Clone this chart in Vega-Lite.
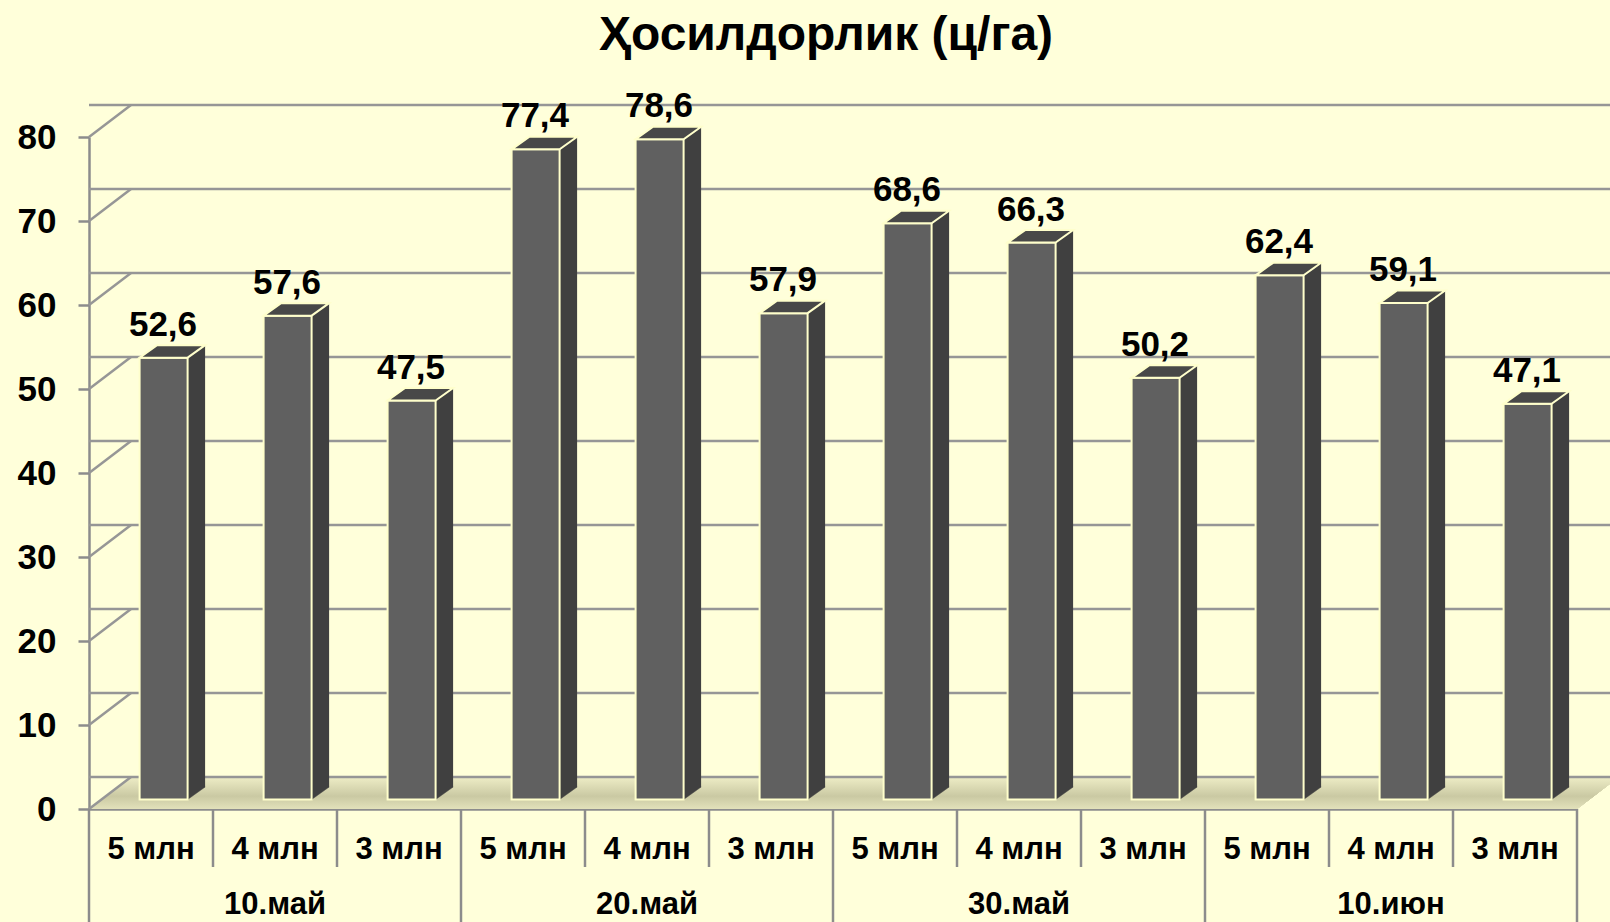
{
  "$schema": "https://vega.github.io/schema/vega-lite/v6.json",
  "width": 1488,
  "height": 672,
  "autosize": {"type": "none"},
  "padding": {"left": 89, "top": 137, "right": 33, "bottom": 113},
  "background": "#FFFFDA",
  "title": {"text": "Ҳосилдорлик (ц/га)", "font": "Liberation Sans", "fontSize": 48, "fontWeight": "bold", "color": "#000000", "anchor": "middle", "frame": "group", "baseline": "alphabetic", "offset": -9, "dx": -7},
  "config": {
    "view": {"stroke": null},
    "locale": {"number": {"decimal": ",", "thousands": " ", "grouping": [3], "currency": ["", ""]}},
    "font": "Liberation Sans"
  },
  "datasets": {
    "bars": [
      {"key": "10.май|5 млн", "date": "10.май", "dose": "5 млн", "value": 52.6},
      {"key": "10.май|4 млн", "date": "10.май", "dose": "4 млн", "value": 57.6},
      {"key": "10.май|3 млн", "date": "10.май", "dose": "3 млн", "value": 47.5},
      {"key": "20.май|5 млн", "date": "20.май", "dose": "5 млн", "value": 77.4},
      {"key": "20.май|4 млн", "date": "20.май", "dose": "4 млн", "value": 78.6},
      {"key": "20.май|3 млн", "date": "20.май", "dose": "3 млн", "value": 57.9},
      {"key": "30.май|5 млн", "date": "30.май", "dose": "5 млн", "value": 68.6},
      {"key": "30.май|4 млн", "date": "30.май", "dose": "4 млн", "value": 66.3},
      {"key": "30.май|3 млн", "date": "30.май", "dose": "3 млн", "value": 50.2},
      {"key": "10.июн|5 млн", "date": "10.июн", "dose": "5 млн", "value": 62.4},
      {"key": "10.июн|4 млн", "date": "10.июн", "dose": "4 млн", "value": 59.1},
      {"key": "10.июн|3 млн", "date": "10.июн", "dose": "3 млн", "value": 47.1}
    ],
    "grid": [{"g": 0}, {"g": 10}, {"g": 20}, {"g": 30}, {"g": 40}, {"g": 50}, {"g": 60}, {"g": 70}, {"g": 80}]
  },
  "data": {"name": "bars"},
  "encoding": {
    "x": {
      "field": "key", "type": "nominal", "sort": null,
      "scale": {"paddingInner": 0, "paddingOuter": 0},
      "axis": {
        "title": null, "labelExpr": "split(datum.label, '|')[1]", "labelAngle": 0,
        "labelFont": "Liberation Sans", "labelFontSize": 31, "labelFontWeight": "bold", "labelColor": "#000000",
        "labelBaseline": "alphabetic", "labelPadding": 49, "ticks": false, "tickSize": 0,
        "domain": true, "domainColor": "#8c8c8c", "domainWidth": 2.5, "grid": false
      }
    }
  },
  "layer": [
    {
      "mark": {"type": "point", "shape": "M0,0L1488,0L1530,-32L42,-32Z", "size": 4, "filled": true, "opacity": 1, "strokeWidth": 0,
        "fill": {"gradient": "linear", "x1": 0, "y1": 0, "x2": 0, "y2": 1, "stops": [{"offset": 0, "color": "#eeedc6"}, {"offset": 0.6, "color": "#cac9a3"}, {"offset": 1, "color": "#e2e1ba"}]}},
      "encoding": {"x": {"datum": "10.май|5 млн", "bandPosition": 0}, "y": {"datum": 0, "type": "quantitative"}}
    },
    {
      "data": {"name": "grid"},
      "mark": {"type": "rule", "color": "#969696", "strokeWidth": 2.5, "xOffset": 42, "x2Offset": 42, "yOffset": -32},
      "encoding": {"x": null, "y": {"field": "g", "type": "quantitative"}}
    },
    {
      "data": {"name": "grid"},
      "mark": {"type": "rule", "color": "#969696", "strokeWidth": 2.5, "y2Offset": -32, "x2Offset": 42},
      "encoding": {
        "x": {"datum": "10.май|5 млн", "bandPosition": 0},
        "x2": {"datum": "10.май|5 млн", "bandPosition": 0},
        "y": {"field": "g", "type": "quantitative"},
        "y2": {"field": "g"}
      }
    },
    {
      "mark": {"type": "bar", "width": 17.5, "xOffset": 45.35, "yOffset": -22, "y2Offset": -22, "fill": "#404040", "stroke": null},
      "encoding": {
        "y": {"field": "value", "type": "quantitative", "scale": {"domain": [0, 80]},
          "axis": {"title": null, "values": [0, 10, 20, 30, 40, 50, 60, 70, 80], "grid": false,
            "labelFont": "Liberation Sans", "labelFontSize": 35, "labelFontWeight": "bold", "labelColor": "#000000", "labelPadding": 22,
            "ticks": true, "tickSize": 11, "tickColor": "#8c8c8c", "tickWidth": 2.5,
            "domain": true, "domainColor": "#8c8c8c", "domainWidth": 2.5}}
      }
    },
    {
      "mark": {"type": "point", "shape": "M24,0L24,-12.5L41.5,-12.5Z", "size": 4, "filled": true, "opacity": 1, "fill": "#404040", "stroke": "#404040", "strokeWidth": 0.5, "xOffset": 12.6, "yOffset": -9.5},
      "encoding": {"y": {"datum": 0, "type": "quantitative"}}
    },
    {
      "mark": {"type": "bar", "width": 48, "xOffset": 12.6, "yOffset": -9.5, "y2Offset": -9.5, "fill": "#606060", "stroke": "#FFFFCC", "strokeWidth": 2},
      "encoding": {"y": {"field": "value", "type": "quantitative"}}
    },
    {
      "mark": {"type": "point", "shape": "M-24,0L24,0L41.5,-12.5L-6.5,-12.5Z", "size": 4, "filled": true, "opacity": 1, "fill": "#484848", "stroke": "#FFFFCC", "strokeWidth": 2, "xOffset": 12.6, "yOffset": -9.5},
      "encoding": {"y": {"field": "value", "type": "quantitative"}}
    },
    {
      "mark": {"type": "text", "font": "Liberation Sans", "fontSize": 35, "fontWeight": "bold", "color": "#000000", "baseline": "alphabetic", "align": "center", "xOffset": 12, "yOffset": -31.5},
      "encoding": {"y": {"field": "value", "type": "quantitative"}, "text": {"field": "value", "type": "quantitative", "format": ".1f"}}
    },
    {
      "transform": [{"filter": "datum.dose != '5 млн'"}],
      "mark": {"type": "rule", "color": "#8c8c8c", "strokeWidth": 2.5, "y2Offset": 58},
      "encoding": {"x": {"field": "key", "type": "nominal", "sort": null, "bandPosition": 0}, "y": {"datum": 0, "type": "quantitative"}, "y2": {"datum": 0}}
    },
    {
      "transform": [{"filter": "datum.dose == '5 млн'"}],
      "mark": {"type": "rule", "color": "#8c8c8c", "strokeWidth": 2.5, "y2Offset": 120},
      "encoding": {"x": {"field": "key", "type": "nominal", "sort": null, "bandPosition": 0}, "y": {"datum": 0, "type": "quantitative"}, "y2": {"datum": 0}}
    },
    {
      "transform": [{"filter": "datum.key == '10.июн|3 млн'"}],
      "mark": {"type": "rule", "color": "#8c8c8c", "strokeWidth": 2.5, "y2Offset": 120},
      "encoding": {"x": {"field": "key", "type": "nominal", "sort": null, "bandPosition": 1}, "y": {"datum": 0, "type": "quantitative"}, "y2": {"datum": 0}}
    },
    {
      "transform": [{"filter": "datum.dose == '4 млн'"}],
      "mark": {"type": "text", "font": "Liberation Sans", "fontSize": 31, "fontWeight": "bold", "color": "#000000", "baseline": "alphabetic", "align": "center", "yOffset": 105},
      "encoding": {"y": {"datum": 0, "type": "quantitative"}, "text": {"field": "date"}}
    }
  ]
}
